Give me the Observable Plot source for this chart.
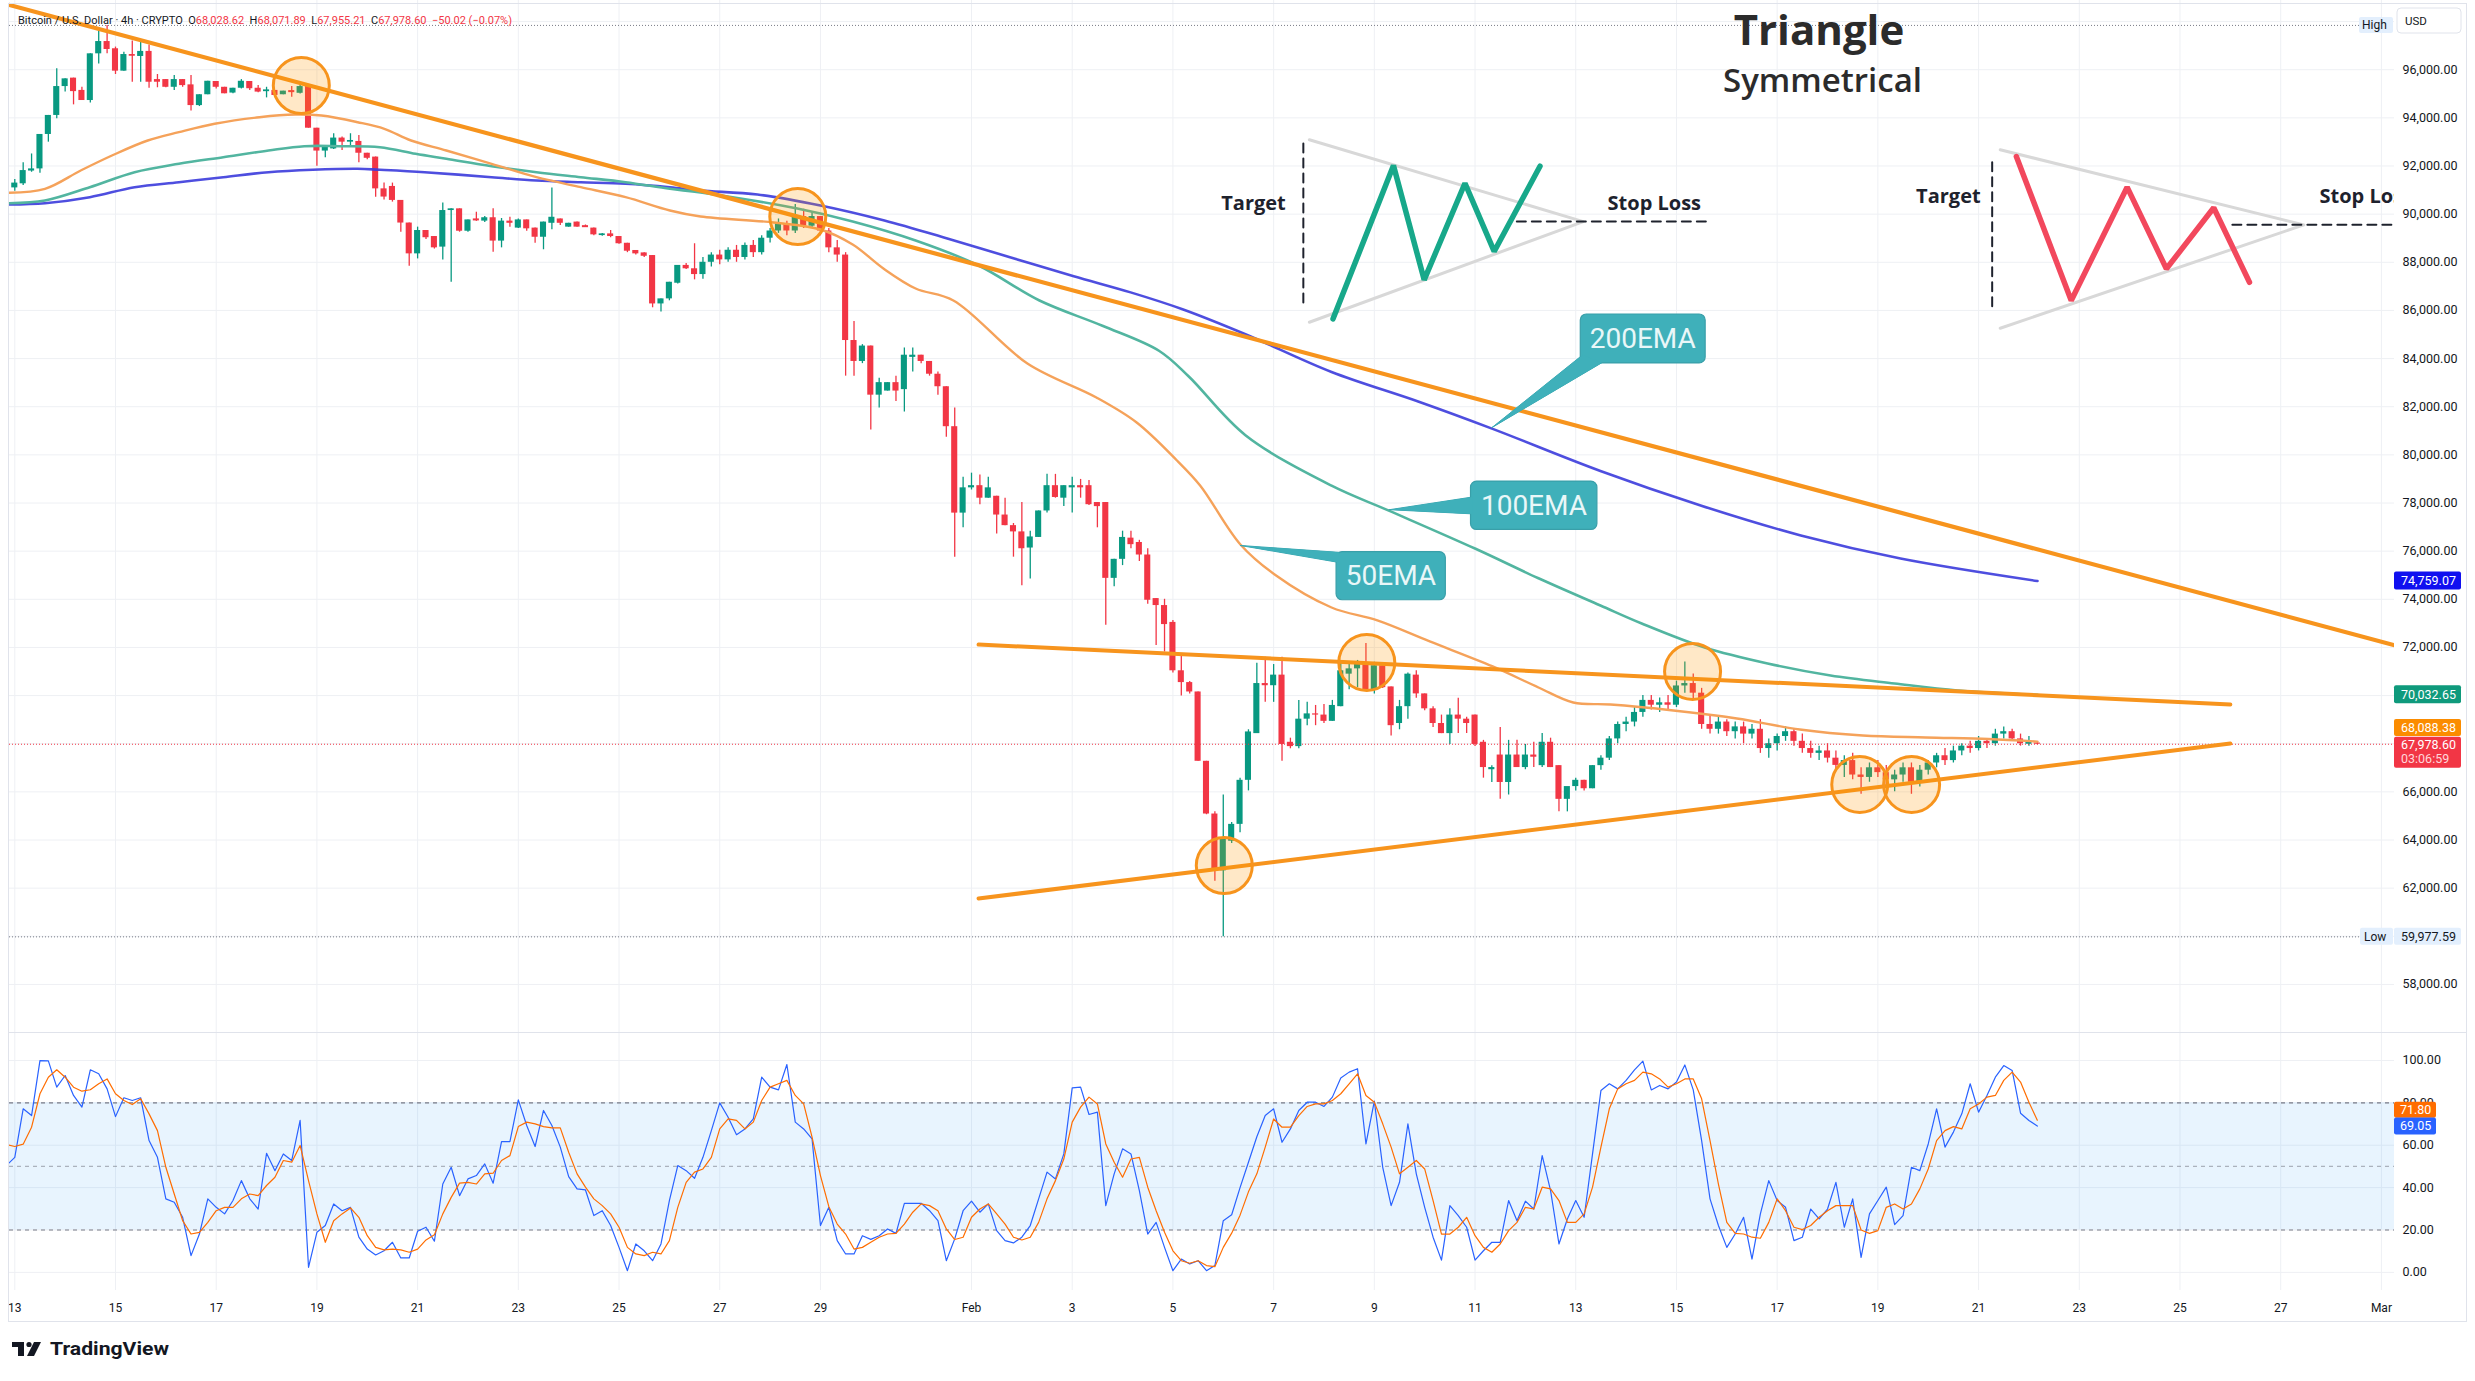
<!DOCTYPE html>
<html>
<head>
<meta charset="utf-8">
<script src="https://cdn.jsdelivr.net/npm/d3@7"></script>
<script src="https://cdn.jsdelivr.net/npm/@observablehq/plot@0.6"></script>
<style>
  html, body { margin:0; padding:0; background:#ffffff; overflow:hidden; }
  #root { position:relative; width:2475px; height:1381px; overflow:hidden; font-family: Roboto, "Noto Sans", sans-serif; }
  #main, #ind { position:absolute; left:0; }
  #main { top:0; }
  #ind { top:1032px; }
  #legend { position:absolute; left:18px; top:14px; font-size:11px; color:#131722; white-space:nowrap; font-family: Roboto, sans-serif; }
  #legend .v { color:#f23645; }
  #frame { position:absolute; left:8px; top:3px; width:2457px; height:1317px; border:1px solid #e0e3eb; pointer-events:none; }
  #sep { position:absolute; left:8px; top:1032px; width:2458px; height:1px; background:#e0e3eb; }
  #footer { position:absolute; left:0; top:1331px; }
</style>
</head>
<body>
<div id="root">
  <div id="main"></div>
  <div id="ind"></div>
  <div id="sep"></div>
  <div id="frame"></div>
  <div id="legend"></div>
  <svg id="footer" width="300" height="50">
    <rect x="12" y="11" width="12" height="5" fill="#131722"/>
    <rect x="18" y="11" width="6" height="14" fill="#131722"/>
    <circle cx="29" cy="13.5" r="2.6" fill="#131722"/>
    <polygon points="34,11 41,11 34,25 27,25" fill="#131722"/>
    <text x="50" y="24" font-family="Roboto, sans-serif" font-weight="700" font-size="17.5" fill="#131722" textLength="119" lengthAdjust="spacingAndGlyphs">TradingView</text>
  </svg>
</div>
<script>
// ---------------- DATA ----------------
const startUTC = Date.UTC(2026, 0, 13);          // first 4h candle: 13 Jan 2026 00:00
const lastBar = [68028.62, 68071.89, 67955.21, 67978.60];  // O H L C of live bar
const changeText = "\u221250.02 (\u22120.07%)";
const countdown = "03:06:59";

// OHLC per 4h candle, USD thousands
const ohlc = [
[91.09,91.44,90.95,91.29],[91.26,92.13,91.19,91.81],[91.79,92.50,91.74,91.88],[91.88,93.31,91.70,93.31],[93.31,94.10,92.99,94.10],
[94.10,96.04,93.96,95.30],[95.30,95.62,95.07,95.62],[95.65,95.65,94.54,95.09],[95.14,95.27,94.72,94.72],[94.72,96.66,94.62,96.66],
[96.66,97.70,96.24,97.17],[97.17,97.84,96.66,96.84],[96.87,96.94,95.80,95.94],[95.94,96.73,95.94,96.63],[96.63,97.19,95.48,96.56],
[96.55,97.14,95.48,96.76],[96.76,97.03,95.23,95.48],[95.59,95.80,95.25,95.48],[95.59,95.59,95.25,95.27],[95.27,95.76,95.14,95.59],
[95.59,95.59,95.27,95.34],[95.37,95.76,94.28,94.51],[94.51,94.96,94.47,94.96],[94.96,95.52,94.96,95.52],[95.51,95.51,95.20,95.27],
[95.27,95.27,95.00,95.00],[95.03,95.23,95.00,95.23],[95.23,95.59,95.20,95.52],[95.51,95.51,95.14,95.21],[95.23,95.34,95.04,95.07],
[95.11,95.27,94.83,95.14],[95.14,95.14,94.93,94.93],[94.96,95.11,94.96,95.11],[95.11,95.30,94.86,95.07],[95.02,95.48,94.99,95.30],
[95.34,95.34,93.57,93.57],[93.57,93.57,91.99,92.62],[92.62,92.78,92.34,92.78],[92.71,93.34,92.69,93.16],[93.16,93.20,92.64,92.99],
[92.99,93.34,92.85,93.06],[93.02,93.27,92.13,92.53],[92.53,92.53,92.26,92.32],[92.37,92.37,90.70,91.05],[91.05,91.29,90.59,90.71],
[91.15,91.29,90.50,90.57],[90.57,90.57,89.25,89.63],[89.63,89.63,87.84,88.35],[88.35,89.46,88.14,89.32],[89.32,89.32,88.95,89.02],
[89.07,89.07,88.55,88.60],[88.63,90.46,88.10,90.15],[90.15,90.22,87.17,90.22],[90.22,90.22,89.25,89.29],[89.29,89.76,89.25,89.76],
[89.78,90.08,89.70,89.74],[89.71,89.90,89.65,89.85],[89.85,90.22,88.42,88.88],[88.88,89.82,88.60,89.71],[89.71,89.87,89.46,89.62],
[89.42,89.80,89.40,89.76],[89.76,89.76,89.29,89.39],[89.42,89.42,88.79,89.04],[89.04,89.67,88.52,89.67],[89.62,91.09,89.35,89.87],
[89.80,89.80,89.53,89.62],[89.46,89.62,89.46,89.62],[89.67,89.67,89.46,89.46],[89.50,89.55,89.45,89.46],[89.42,89.42,89.10,89.14],
[89.11,89.20,89.08,89.18],[89.18,89.32,89.02,89.07],[89.07,89.07,88.75,88.77],[88.79,88.79,88.40,88.46],[88.49,88.49,88.30,88.35],
[88.39,88.40,88.20,88.25],[88.28,88.28,86.11,86.27],[86.27,86.48,85.93,86.48],[86.48,87.17,86.40,87.17],[87.13,87.87,87.10,87.87],
[87.87,87.95,87.70,87.73],[87.73,88.77,87.27,87.49],[87.49,88.20,87.30,88.00],[88.00,88.40,87.80,88.30],[88.30,88.50,87.90,88.10],
[88.10,88.60,88.00,88.50],[88.50,88.70,88.00,88.20],[88.20,88.80,88.10,88.70],[88.70,88.90,88.20,88.40],[88.40,89.10,88.30,89.00],
[89.00,89.40,88.80,89.30],[89.30,89.80,89.20,89.60],[89.60,89.70,89.10,89.30],[89.30,90.40,89.20,89.90],[89.90,90.20,89.40,89.50],
[89.50,90.10,89.40,89.90],[89.90,89.90,89.10,89.30],[89.30,89.40,88.40,88.60],[88.60,88.90,88.00,88.30],[88.30,88.40,83.27,84.75],
[84.75,85.54,83.27,83.88],[83.88,84.58,83.79,84.52],[84.52,84.52,81.03,82.48],[82.48,83.18,81.95,83.00],[82.65,83.00,82.65,83.00],
[83.00,83.27,82.22,82.65],[82.71,84.44,81.78,84.14],[84.05,84.44,83.44,84.14],[84.14,84.14,83.79,83.88],[83.88,83.88,83.27,83.35],
[83.35,83.44,82.48,82.83],[82.83,82.83,80.73,81.17],[81.17,81.95,75.75,77.58],[77.58,79.07,76.97,78.63],[78.63,79.24,78.54,78.72],
[78.72,79.16,77.93,78.20],[78.20,79.07,78.20,78.63],[78.28,78.28,76.71,77.50],[77.50,78.20,77.06,77.06],[77.06,77.15,75.75,76.80],
[76.80,78.02,74.56,76.10],[76.13,76.83,74.84,76.59],[76.57,77.67,76.57,77.67],[77.67,79.19,77.58,78.72],[78.72,79.19,78.20,78.23],
[78.20,78.72,77.85,78.72],[78.63,79.07,77.58,78.72],[78.72,78.98,78.20,78.63],[78.72,78.93,77.90,77.93],[78.02,78.02,76.97,77.85],
[78.02,78.02,72.92,74.87],[74.87,75.66,74.52,75.66],[75.66,76.83,75.40,76.57],[76.54,76.83,76.10,76.27],[76.36,76.45,75.57,75.84],
[75.84,76.10,73.79,73.96],[74.03,74.03,72.08,73.74],[73.74,74.00,71.81,72.95],[73.04,73.12,70.94,71.03],[71.03,71.73,69.98,70.54],
[70.54,70.59,70.07,70.15],[70.15,70.15,67.27,67.27],[67.27,67.27,65.05,65.08],[65.08,65.17,62.29,62.72],[62.72,65.87,59.97759,64.03],
[63.95,64.73,63.86,64.65],[64.65,66.57,64.30,66.48],[66.48,68.58,66.04,68.49],[68.42,71.34,68.42,70.50],[70.50,71.59,69.72,70.41],
[70.41,71.29,69.72,70.85],[70.85,71.59,67.27,67.97],[68.06,68.23,67.79,67.88],[67.88,69.80,67.79,69.02],[69.02,69.72,68.75,69.24],
[69.24,69.59,68.75,69.19],[69.19,69.63,68.84,68.93],[68.93,69.80,68.93,69.59],[69.54,71.38,69.54,71.03],[70.89,71.29,70.24,71.11],
[71.11,71.46,70.33,71.38],[71.34,72.16,70.24,70.24],[70.24,71.38,70.07,71.24],[71.24,71.24,70.29,70.33],[70.36,70.36,68.32,68.75],
[68.84,69.80,68.58,69.54],[69.54,70.94,69.02,70.89],[70.85,71.03,69.89,70.07],[70.07,70.07,69.37,69.45],[69.45,69.54,68.67,68.84],
[68.84,69.19,68.42,68.42],[68.42,69.45,67.97,69.19],[69.19,69.89,68.42,69.02],[69.02,69.10,68.42,68.84],[69.19,69.19,67.88,67.97],
[68.06,68.14,66.57,67.01],[66.92,67.09,66.39,67.01],[67.53,68.67,65.69,66.39],[66.39,68.14,65.87,67.53],[67.53,68.14,67.01,67.01],
[67.01,67.97,66.92,67.53],[67.53,68.06,67.01,67.44],[67.09,68.42,67.01,68.06],[68.06,68.23,67.01,67.01],[67.09,67.09,65.17,65.69],
[65.69,65.96,65.17,66.22],[66.22,66.57,66.04,66.48],[66.48,66.48,66.04,66.13],[66.13,67.09,66.13,67.09],[67.09,67.50,66.90,67.40],
[67.40,68.30,67.30,68.20],[68.20,68.90,68.00,68.80],[68.80,69.10,68.50,68.90],[68.90,69.50,68.70,69.30],[69.30,70.00,69.10,69.80],
[69.80,70.00,69.40,69.60],[69.60,69.90,69.30,69.70],[69.70,70.00,69.40,69.60],[69.60,70.60,69.50,70.40],[70.40,71.40,70.10,70.50],
[70.50,70.90,69.80,70.10],[70.10,70.30,68.60,68.80],[68.80,69.20,68.40,68.60],[68.60,69.10,68.40,68.90],[68.90,69.00,68.30,68.50],
[68.50,68.90,68.20,68.70],[68.70,68.90,68.00,68.40],[68.40,68.80,68.20,68.60],[68.60,69.00,67.60,67.80],[67.80,68.20,67.40,68.00],
[68.00,68.40,67.70,68.30],[68.30,68.70,68.10,68.50],[68.50,68.60,67.90,68.10],[68.10,68.40,67.60,67.80],[67.80,68.10,67.40,67.60],
[67.60,67.90,67.30,67.70],[67.70,68.00,67.20,67.40],[67.40,67.70,66.90,67.10],[67.10,67.50,66.60,67.30],[67.30,67.60,66.50,66.70],
[66.70,67.00,65.90,66.60],[66.60,67.20,66.40,67.00],[67.00,67.30,66.60,66.80],[66.80,67.10,66.30,66.50],[66.50,66.90,66.00,66.70],
[66.70,67.20,66.40,67.00],[67.00,67.20,65.90,66.40],[66.40,67.10,66.20,66.90],[66.90,67.30,66.70,67.20],[67.20,67.60,67.00,67.50],
[67.50,67.80,67.10,67.30],[67.30,67.90,67.20,67.70],[67.70,68.00,67.50,67.90],[67.90,68.10,67.60,67.80],[67.80,68.30,67.70,68.10],
[68.10,68.20,67.80,68.00],[68.00,68.60,67.90,68.40],[68.40,68.70,68.20,68.50],[68.50,68.60,68.10,68.20],[68.20,68.40,67.90,68.00],
[68.00,68.30,67.90,68.03],[68.02862,68.07189,67.95521,67.9786]
];

// EMAs sampled along the chart: [day offset from 13 Jan 00:00, price]
const ema50 = [[-0.11,90886],[0.60,91053],[1.31,91813],[1.93,92436],[2.64,93059],[3.26,93404],[3.97,93753],[4.86,94027],[5.57,94139],[6.09,94097],[6.81,93819],[7.34,93545],[7.87,93059],[8.57,92644],[9.47,92091],[10.36,91534],[11.24,91119],[12.13,90704],[13.01,90151],[13.62,89900],[15.07,89653],[16.0,89362],[16.64,88739],[17.25,87742],[17.89,86911],[18.64,86413],[20.11,83796],[21.48,82384],[22.28,81345],[23.08,79767],[23.54,78728],[24.34,76277],[25.02,75031],[26.15,73660],[27.06,73120],[28.10,72248],[29.35,71210],[30.26,70337],[30.95,69714],[31.69,69631],[32.94,69382],[34.20,69050],[35.45,68593],[36.70,68344],[37.95,68261],[39.20,68199],[40.17,68088.38]];
const ema100 = [[-0.11,90454],[0.60,90567],[1.49,91119],[2.38,91742],[3.26,92091],[4.14,92365],[5.04,92644],[5.75,92822],[6.45,92822],[7.25,92781],[7.96,92506],[8.57,92299],[9.47,91991],[10.36,91742],[11.24,91534],[12.13,91327],[13.01,91053],[13.62,90900],[15.54,90234],[16.64,89694],[17.89,88905],[19.14,87867],[20.35,86412],[21.60,85362],[22.73,84315],[23.31,83264],[24.44,80817],[26.15,78720],[27.30,77673],[29.01,76098],[30.26,74873],[31.49,73743],[32.31,72995],[33.56,71998],[34.81,71334],[36.06,70835],[37.33,70503],[38.58,70212],[40.17,70032.65]];
const ema200 = [[-0.11,90400],[0.60,90454],[1.49,90704],[2.38,91119],[3.26,91327],[4.14,91534],[5.04,91742],[5.92,91842],[6.81,91883],[7.25,91842],[8.14,91742],[9.47,91534],[10.36,91397],[11.24,91327],[12.13,91260],[13.01,91119],[13.62,90982],[14.75,90816],[16.0,90359],[17.27,89736],[18.52,88988],[19.78,88200],[21.03,87420],[22.16,86750],[23.19,86050],[24.44,85012],[26.15,83443],[27.87,82217],[29.35,81079],[31.49,79330],[33.48,77897],[35.47,76651],[37.45,75695],[40.17,74759.07]];

// Stochastic RSI per candle, starting one candle before the first candle above
const stochK = [50.4,54.3,77.2,74.0,99.9,99.8,87.4,92.9,83.5,78.0,95.6,93.7,86.6,73.5,82.4,81.1,82.4,62.2,54.3,34.7,33.1,26.0,7.9,18.1,34.7,30.7,27.6,33.9,43.3,34.7,29.9,56.2,48.0,55.9,52.8,71.7,2.4,18.9,22.1,32.3,29.1,30.7,16.6,11.0,8.2,10.2,14.2,6.8,6.8,19.4,21.3,14.7,41.7,49.6,36.2,44.1,45.7,51.2,42.1,61.7,61.7,81.4,69.3,59.4,76.4,69.3,59.1,45.2,39.4,38.9,26.8,29.1,22.1,11.8,0.8,13.4,10.2,5.5,13.4,33.9,50.4,48.0,44.4,54.3,66.9,80.0,73.2,65.0,67.7,72.4,92.1,87.4,86.1,98.1,70.9,67.7,63.0,22.1,30.7,15.0,8.7,8.7,17.3,15.6,17.3,20.5,18.4,32.6,32.6,32.6,29.1,24.4,5.5,15.8,29.1,33.6,28.4,32.3,19.7,15.0,13.9,16.6,22.1,34.7,47.3,44.1,55.9,87.1,87.4,74.5,75.6,31.5,46.5,58.3,55.9,38.6,18.1,23.6,11.8,0.8,6.3,4.0,5.5,0.8,3.2,24.4,27.2,40.0,52.0,64.0,74.0,77.2,61.4,67.7,76.4,80.3,80.3,78.3,82.7,91.7,94.5,96.1,60.6,80.8,49.6,31.5,42.5,70.1,46.5,30.7,16.6,5.8,31.5,26.8,21.3,5.8,10.2,14.2,14.2,33.9,24.4,33.6,29.9,55.1,38.6,13.4,25.2,33.9,26.0,55.9,85.8,89.0,86.6,90.6,95.6,99.7,86.1,88.2,86.6,89.8,97.9,86.1,62.2,34.7,22.1,11.8,18.1,26.0,6.3,27.6,43.3,33.9,30.7,15.0,16.6,29.9,25.2,29.9,42.5,21.3,34.7,7.1,27.6,33.9,40.2,22.5,26.8,49.6,48.0,60.6,77.2,59.1,66.2,74.8,89.0,75.6,83.5,92.1,97.6,95.3,75.1,71.7,69.05];
const stochD = [60.3,59.4,60.5,68.5,84.3,92.1,95.6,92.1,87.4,85.5,86.2,89.0,91.3,84.3,81.1,79.2,81.9,74.8,66.9,49.6,37.0,24.4,18.1,18.9,23.6,29.1,30.7,30.7,34.7,37.0,36.2,41.0,44.9,52.8,52.0,59.9,43.3,27.6,14.2,24.4,27.6,30.4,26.0,17.3,11.8,10.6,11.0,10.6,9.5,11.0,15.3,17.8,27.6,35.4,42.1,42.5,41.7,46.5,46.8,52.8,55.1,68.8,70.9,70.1,68.8,68.2,68.2,56.7,46.5,40.2,34.7,31.5,27.6,21.3,11.8,8.7,7.9,9.5,8.7,15.0,30.7,42.5,47.3,48.8,54.3,67.7,72.4,71.7,67.7,70.9,81.1,87.4,89.0,90.6,83.5,79.5,63.8,45.7,31.0,22.8,18.1,11.0,11.8,14.2,16.6,18.1,18.4,22.8,28.4,32.3,31.5,29.1,20.5,15.5,16.6,26.0,29.9,32.3,27.6,22.8,16.6,15.3,16.6,23.6,34.7,43.3,53.5,70.9,78.0,82.7,79.5,60.6,52.0,44.9,53.5,54.3,40.2,29.1,18.9,10.2,5.5,4.3,5.5,3.2,2.7,11.8,18.5,27.0,38.0,46.5,59.1,72.4,68.5,68.5,74.0,78.3,79.5,79.5,81.1,84.3,89.0,93.7,83.5,80.3,70.1,59.1,46.5,49.6,52.8,48.8,33.9,18.1,18.1,21.3,26.0,17.3,11.8,9.5,13.4,19.7,23.6,30.7,29.9,40.2,39.4,33.9,23.6,23.6,27.6,40.2,59.1,77.2,86.6,89.0,90.6,94.5,93.7,91.3,87.4,89.0,91.3,91.3,81.9,62.2,41.7,23.6,18.4,18.1,16.6,16.1,23.6,34.7,29.1,21.3,20.2,22.1,26.0,29.1,31.5,31.5,31.5,20.0,18.4,19.7,30.7,32.3,29.9,32.3,39.4,48.8,62.2,66.9,68.8,67.7,77.2,79.5,82.7,83.5,90.6,94.5,89.8,80.3,71.8];

// Drawings (time in days from 13 Jan, price)
const downTrend = [[-0.105,98690],[47.26,72090]];
const triUpper  = [[19.14,72120],[44.0,69630]];
const triLower  = [[19.14,61570],[44.0,68010]];
const touchCircles = [[5.69,95340],[15.55,89900],[26.85,71375],[33.32,71000],[24.02,62940],[36.64,66310],[37.67,66310]];
const callouts = [
  {label:"200EMA", x1:31.10, x2:33.58, top:85830, bottom:83800, tip:[29.34,81140], b1:[31.14,84160], b2:[31.52,83830], cx:32.33, cy:84815},
  {label:"100EMA", x1:28.92, x2:31.43, top:78890, bottom:76880, tip:[27.30,77722], b1:[28.95,78250], b2:[28.95,77548], cx:30.17, cy:77890},
  {label:"50EMA",  x1:26.25, x2:28.42, top:75960, bottom:73960, tip:[24.34,76235], b1:[26.30,75950], b2:[26.30,75529], cx:27.33, cy:74960}
];
const greenTri = [[25.71,93090],[31.15,89690],[25.71,85510]];
const greenZig = [[26.18,85650],[27.38,92020],[27.99,87270],[28.80,91285],[29.38,88450],[30.29,91990]];
const greenTarget = [[25.59,92930],[25.59,86205]];
const greenStop = [[29.83,89690],[33.68,89690]];
const redTri = [[39.43,92675],[45.46,89555],[39.43,85260]];
const redZig = [[39.75,92395],[40.84,86410],[41.95,91120],[42.73,87730],[43.67,90265],[44.38,87170]];
const redTarget = [[39.27,92160],[39.27,86135]];
const redStop = [[44.04,89555],[47.6,89555]];
const notesCentered = [
  {text:"Target", d:24.60, p:90420, len:66},
  {text:"Stop Loss", d:32.56, p:90420, len:95},
  {text:"Target", d:38.40, p:90730, len:66}
];
const notesLeft = [{text:"Stop Loss", d:45.77, p:90730, len:95}];
const title = {text:"Triangle", d:35.83, p:97604, len:157};
const subtitle = {text:"Symmetrical", d:35.90, p:95494, len:204};

const priceTicks = [58000,62000,64000,66000,72000,74000,76000,78000,80000,82000,84000,86000,88000,90000,92000,94000,96000];
const priceGrid = d3.range(58000, 98001, 2000);
const stochTicks = [0,20,40,60,80,100];
const tickDates = [["2026-01-13","13"],["2026-01-15","15"],["2026-01-17","17"],["2026-01-19","19"],["2026-01-21","21"],["2026-01-23","23"],["2026-01-25","25"],["2026-01-27","27"],["2026-01-29","29"],["2026-02-01","Feb"],["2026-02-03","3"],["2026-02-05","5"],["2026-02-07","7"],["2026-02-09","9"],["2026-02-11","11"],["2026-02-13","13"],["2026-02-15","15"],["2026-02-17","17"],["2026-02-19","19"],["2026-02-21","21"],["2026-02-23","23"],["2026-02-25","25"],["2026-02-27","27"],["2026-03-01","Mar"]];

// ---------------- BUILD ----------------
const DAYMS = 86400e3, HOURMS = 3600e3;
const T = d => new Date(startUTC + d * DAYMS);
const UP = "#089981", DN = "#f23645", GRID = "#eef0f4";
const xDomain = [T(-0.105), T(47.26)];
const xRange = [9, 2394];

const candles = ohlc.map(([o,h,l,c], i) => ({t: new Date(startUTC + i*4*HOURMS), o:o*1000, h:h*1000, l:l*1000, c:c*1000}));
const bodies = candles.map(d => {
  const lo = Math.min(d.o, d.c), hi = Math.max(d.o, d.c), pad = (hi - lo) < 45 ? 22 : 0;
  return {...d, b1: lo - pad, b2: hi + pad, t1: new Date(+d.t - 1.45*HOURMS), t2: new Date(+d.t + 1.45*HOURMS)};
});
const ticks = tickDates.map(([s, lab]) => ({t: new Date(s + "T00:00:00Z"), lab}));
const pt = a => ({t: T(a[0]), p: a[1]});
const maxHigh = d3.max(candles, d => d.h), minLow = d3.min(candles, d => d.l);
const lastClose = lastBar[3];
const fmt2 = d3.format(",.2f");

const lineMarks = (arr, opts) => Plot.line(arr.map(pt), {x:"t", y:"p", clip:true, ...opts});
const wedges = callouts.flatMap((c, k) => [c.tip, c.b1, c.b2, c.tip].map(a => ({...pt(a), k})));

const main = Plot.plot({
  width: 2475, height: 1032,
  marginLeft: 9, marginRight: 81, marginTop: 0, marginBottom: 0,
  style: {fontFamily: "Roboto, sans-serif", fontSize: "12.5px", color: "#131722", background: "transparent", overflow: "visible"},
  x: {type: "utc", domain: xDomain, range: xRange, axis: null},
  y: {type: "linear", domain: [56004, 98875], range: [1032, 0], axis: null},
  marks: [
    Plot.ruleY(priceGrid, {stroke: GRID, strokeWidth: 1}),
    Plot.ruleX(ticks, {x: "t", stroke: GRID, strokeWidth: 1}),
    Plot.text(priceTicks, {y: d => d, frameAnchor: "right", dx: 8, textAnchor: "start", text: d => fmt2(d), fill: "#131722", fontSize: 12.5}),
    // candles
    Plot.ruleX(candles, {x: "t", y1: "l", y2: "h", stroke: d => d.c >= d.o ? UP : DN, strokeWidth: 1.3, clip: true}),
    Plot.rect(bodies, {x1: "t1", x2: "t2", y1: "b1", y2: "b2", fill: d => d.c >= d.o ? UP : DN, clip: true}),
    // EMAs
    lineMarks(ema200, {stroke: "#3b3bdc", strokeWidth: 2.6, curve: "catmull-rom", strokeOpacity: 0.9}),
    lineMarks(ema100, {stroke: "#52b5a0", strokeWidth: 2.6, curve: "catmull-rom"}),
    lineMarks(ema50,  {stroke: "#f5a25a", strokeWidth: 2.4, curve: "catmull-rom"}),
    // price lines
    Plot.ruleY([maxHigh], {stroke: "#787b86", strokeDasharray: "1,2", strokeWidth: 1}),
    Plot.ruleY([minLow], {stroke: "#787b86", strokeDasharray: "1,2", strokeWidth: 1}),
    Plot.ruleY([lastClose], {stroke: DN, strokeDasharray: "1,2", strokeWidth: 1}),
    // trend lines
    lineMarks(downTrend, {stroke: "#f7941d", strokeWidth: 4.2}),
    lineMarks(triUpper, {stroke: "#f7941d", strokeWidth: 4}),
    lineMarks(triLower, {stroke: "#f7941d", strokeWidth: 4}),
    Plot.dot(touchCircles.map(pt), {x: "t", y: "p", r: 28, fill: "#ff9800", fillOpacity: 0.22, stroke: "#f7941d", strokeWidth: 3}),
    // callouts
    Plot.line(wedges, {x: "t", y: "p", z: "k", fill: "#3fb0ba", stroke: "#3aa6b0", strokeWidth: 1}),
    Plot.rect(callouts, {x1: c => T(c.x1), x2: c => T(c.x2), y1: "bottom", y2: "top", fill: "#3fb0ba", stroke: "#399fa9", strokeWidth: 1.2, rx: 6}),
    Plot.line(wedges, {x: "t", y: "p", z: "k", fill: "#3fb0ba", stroke: "none"}),
    Plot.text(callouts, {x: c => T(c.cx), y: "cy", text: "label", fill: "#e9f7f8", fontSize: 28, fontFamily: "Roboto, sans-serif"}),
    // pattern sketches
    lineMarks(greenTri, {stroke: "#d8d8d8", strokeWidth: 3}),
    lineMarks(redTri, {stroke: "#d8d8d8", strokeWidth: 3}),
    lineMarks(greenTarget, {stroke: "#1e222d", strokeWidth: 2, strokeDasharray: "9,6"}),
    lineMarks(redTarget, {stroke: "#1e222d", strokeWidth: 2, strokeDasharray: "9,6"}),
    lineMarks(greenStop, {stroke: "#1e222d", strokeWidth: 2, strokeDasharray: "9,6"}),
    lineMarks(redStop, {stroke: "#1e222d", strokeWidth: 2, strokeDasharray: "9,6"}),
    lineMarks(greenZig, {stroke: "#17a88a", strokeWidth: 5.5, strokeLinejoin: "miter", strokeLinecap: "round"}),
    lineMarks(redZig, {stroke: "#f2485d", strokeWidth: 5.5, strokeLinejoin: "miter", strokeLinecap: "round"}),
    Plot.text(notesCentered, {x: n => T(n.d), y: "p", text: "text", textAnchor: "middle", fontSize: 20, fontWeight: 700, fontFamily: "'Open Sans', sans-serif", fill: "#1e222d", ariaLabel: "notes"}),
    Plot.text(notesLeft, {x: n => T(n.d), y: "p", text: "text", textAnchor: "start", fontSize: 20, fontWeight: 700, fontFamily: "'Open Sans', sans-serif", fill: "#1e222d", clip: true, ariaLabel: "notes"}),
    Plot.text([title], {x: n => T(n.d), y: "p", text: "text", textAnchor: "middle", fontSize: 42, fontWeight: 700, fontFamily: "'Open Sans', sans-serif", fill: "#2b2b2b", ariaLabel: "titles"}),
    Plot.text([subtitle], {x: n => T(n.d), y: "p", text: "text", textAnchor: "middle", fontSize: 33, fontWeight: 600, fontFamily: "'Open Sans', sans-serif", fill: "#2b2b2b", ariaLabel: "titles"})
  ]
});
document.getElementById("main").appendChild(main);

// fit the sketch texts to their measured widths
const lens = new Map([...notesCentered, ...notesLeft, title, subtitle].map(n => [n.text, n.len]));
d3.select(main).selectAll('g[aria-label="notes"] text, g[aria-label="titles"] text').each(function() {
  const s = this.textContent;
  if (lens.has(s)) d3.select(this).attr("textLength", lens.get(s)).attr("lengthAdjust", "spacingAndGlyphs");
});

// value labels on the price scale
const yS = main.scale("y");
const yMain = v => (yS && yS.apply) ? yS.apply(v) : d3.scaleLinear([56004, 98875], [1032, 0])(v);
const svgM = d3.select(main);
function tag(svg, x, y, w, h, bg, lines, fg, opts = {}) {
  const g = svg.append("g").attr("text-anchor", "start");
  g.append("rect").attr("x", x).attr("y", y).attr("width", w).attr("height", h).attr("rx", opts.rx ?? 2)
    .attr("fill", bg).attr("stroke", opts.stroke || "none");
  lines.forEach((s, k) => g.append("text").attr("x", x + (opts.pad ?? 7)).attr("y", y + (opts.first ?? h/2) + k*14).attr("dy", "0.35em")
    .attr("text-anchor", "start")
    .attr("fill", k ? (opts.fg2 || fg) : fg).attr("font-size", opts.fs || 12.5).attr("font-family", "Roboto, sans-serif").text(s));
}
tag(svgM, 2394, yMain(74759.07) - 9, 67, 18, "#1010f0", [fmt2(74759.07)], "#ffffff");
tag(svgM, 2394, yMain(70032.65) - 9, 67, 18, "#0f9a7c", [fmt2(70032.65)], "#ffffff");
tag(svgM, 2394, yMain(68088.38) - 22, 67, 17, "#fb8c00", [fmt2(68088.38)], "#ffffff");
tag(svgM, 2394, yMain(lastClose) - 7, 67, 31, "#f23645", [fmt2(lastClose), countdown], "#ffffff", {first: 8, fg2: "#ffd6da"});
tag(svgM, 2359, yMain(maxHigh) - 8, 34, 16, "#e3effd", ["High"], "#131722", {pad: 3, fs: 12});
tag(svgM, 2397, 8, 64, 25, "#ffffff", ["USD"], "#131722", {stroke: "#e0e3eb", rx: 4, pad: 8, fs: 11.5});
tag(svgM, 2360, yMain(minLow) - 8.5, 33, 17, "#e3effd", ["Low"], "#131722", {pad: 4, fs: 12});
tag(svgM, 2394, yMain(minLow) - 8.5, 67, 17, "#e3effd", [fmt2(minLow)], "#131722");

// ---------------- INDICATOR PANE ----------------
const kPts = stochK.map((v, j) => ({t: new Date(startUTC + (j - 1)*4*HOURMS), v}));
const dPts = stochD.map((v, j) => ({t: new Date(startUTC + (j - 1)*4*HOURMS), v}));
const ind = Plot.plot({
  width: 2475, height: 289,
  marginLeft: 9, marginRight: 81, marginTop: 0, marginBottom: 31,
  style: {fontFamily: "Roboto, sans-serif", fontSize: "12px", color: "#131722", background: "transparent", overflow: "visible"},
  x: {type: "utc", domain: xDomain, range: xRange, axis: null},
  y: {type: "linear", domain: [-8.55, 113.2], range: [258, 0], axis: null},
  marks: [
    Plot.ruleY(stochTicks, {stroke: GRID}),
    Plot.ruleX(ticks, {x: "t", stroke: GRID}),
    Plot.rect([{}], {x1: xDomain[0], x2: xDomain[1], y1: 20, y2: 80, fill: "#2196f3", fillOpacity: 0.1}),
    Plot.ruleY([80, 20], {stroke: "#787b86", strokeDasharray: "4,4", strokeWidth: 1.2}),
    Plot.ruleY([50], {stroke: "#787b86", strokeOpacity: 0.55, strokeDasharray: "4,4", strokeWidth: 1.2}),
    Plot.line(kPts, {x: "t", y: "v", stroke: "#2962ff", strokeWidth: 1.2, clip: true}),
    Plot.line(dPts, {x: "t", y: "v", stroke: "#ff6d00", strokeWidth: 1.2, clip: true}),
    Plot.text(stochTicks, {y: d => d, frameAnchor: "right", dx: 8, textAnchor: "start", text: d => d3.format(".2f")(d), fill: "#131722", fontSize: 12.5}),
    Plot.text(ticks, {x: "t", frameAnchor: "bottom", dy: 21, text: "lab", fill: "#131722", fontSize: 12, ariaLabel: "timeaxis"})
  ]
});
document.getElementById("ind").appendChild(ind);
d3.select(ind).selectAll('g[aria-label="timeaxis"] text').each(function() {
  const s = this.textContent; if (s === "Feb" || s === "Mar") d3.select(this).attr("font-weight", 700);
});
const yIs = ind.scale("y");
const yInd = v => (yIs && yIs.apply) ? yIs.apply(v) : d3.scaleLinear([-8.55, 113.2], [258, 0])(v);
const svgI = d3.select(ind);
tag(svgI, 2394, yInd(stochD[stochD.length-1]) - 18, 42, 16, "#ff6d00", [stochD[stochD.length-1].toFixed(2)], "#ffffff", {pad: 6});
tag(svgI, 2394, yInd(stochK[stochK.length-1]) - 8, 42, 17, "#2962ff", [stochK[stochK.length-1].toFixed(2)], "#ffffff", {pad: 6});

// ---------------- LEGEND ----------------
const f2 = d3.format(",.2f");
document.getElementById("legend").innerHTML =
  "Bitcoin / U.S. Dollar \u00b7 4h \u00b7 CRYPTO&nbsp;&nbsp;O<span class='v'>" + f2(lastBar[0]) + "</span>&nbsp;&nbsp;H<span class='v'>" + f2(lastBar[1]) +
  "</span>&nbsp;&nbsp;L<span class='v'>" + f2(lastBar[2]) + "</span>&nbsp;&nbsp;C<span class='v'>" + f2(lastBar[3]) + "</span>&nbsp;&nbsp;<span class='v'>" + changeText + "</span>";
</script>
</body>
</html>
